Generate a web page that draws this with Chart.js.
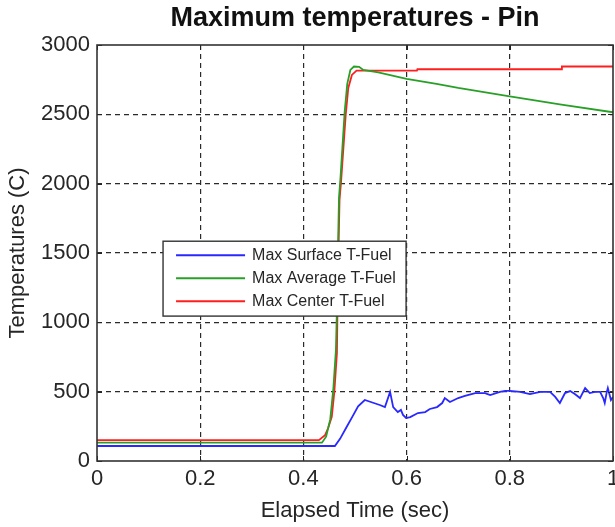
<!DOCTYPE html>
<html><head><meta charset="utf-8">
<script src="https://cdn.jsdelivr.net/npm/chart.js@4.4.0/dist/chart.umd.min.js"></script>
<style>html,body{margin:0;padding:0;background:#fff}canvas{display:block}</style>
</head><body>
<canvas id="c" width="615" height="527"></canvas>
<script>
const chartTitle = 'Maximum temperatures - Pin';
const xAxisLabel = 'Elapsed Time (sec)';
const yAxisLabel = 'Temperatures (C)';
const xTicks = [0, 0.2, 0.4, 0.6, 0.8, 1];
const yTicks = [0, 500, 1000, 1500, 2000, 2500, 3000];
const seriesLabels = ['Max Surface T-Fuel', 'Max Average T-Fuel', 'Max Center T-Fuel'];

const surfaceTime = [0, 0.461, 0.471, 0.484, 0.495, 0.506, 0.519, 0.535, 0.548, 0.558, 0.568, 0.574, 0.583, 0.589, 0.593, 0.599, 0.607, 0.622, 0.636, 0.645, 0.659, 0.669, 0.674, 0.684, 0.700, 0.713, 0.733, 0.752, 0.762, 0.781, 0.791, 0.800, 0.820, 0.839, 0.859, 0.878, 0.888, 0.897, 0.907, 0.917, 0.926, 0.936, 0.946, 0.955, 0.965, 0.975, 0.981, 0.984, 0.988, 0.990, 0.996, 1.0];
const surfaceTemp = [108, 108, 160, 247, 320, 395, 440, 420, 404, 389, 498, 389, 353, 368, 332, 310, 317, 346, 353, 375, 389, 418, 454, 425, 454, 469, 490, 490, 476, 498, 505, 505, 498, 483, 498, 498, 462, 418, 490, 505, 483, 454, 526, 490, 498, 498, 454, 418, 498, 526, 440, 462];

const averageTime = [0, 0.436, 0.444, 0.452, 0.458, 0.463, 0.465, 0.467, 0.469, 0.472, 0.480, 0.485, 0.491, 0.498, 0.508, 0.516, 0.545, 0.6, 0.658, 0.7, 0.8, 0.9, 1.0];
const averageTemp = [132, 132, 175, 300, 520, 800, 1100, 1530, 1900, 2050, 2520, 2720, 2820, 2845, 2843, 2820, 2803, 2755, 2720, 2690, 2630, 2570, 2515];

const centerTime = [0, 0.43, 0.442, 0.448, 0.455, 0.460, 0.465, 0.466, 0.468, 0.470, 0.473, 0.482, 0.487, 0.494, 0.503, 0.62, 0.621, 0.90, 0.901, 1.0];
const centerTemp = [150, 150, 187, 238, 319, 500, 779, 1089, 1522, 1882, 2014, 2495, 2690, 2784, 2815, 2815, 2825, 2825, 2845, 2845];

const seriesColors = ['rgb(40,40,255)', 'rgb(40,160,40)', 'rgb(255,30,30)'];

function pts(t, v) { return t.map((x, i) => ({x: x, y: v[i]})); }

const FONT = "'Liberation Sans', Arial, Helvetica, sans-serif";
const TXT = '#262626';

const frame = {
  id: 'frame',
  afterDatasetsDraw(chart) {
    const {ctx, chartArea: a, scales} = chart;
    ctx.save();
    ctx.strokeStyle = '#222';
    ctx.lineWidth = 1;
    ctx.setLineDash([]);
    const L = 5;
    ctx.beginPath();
    xTicks.forEach(v => {
      const x = Math.round(scales.x.getPixelForValue(v)) + 0.5;
      ctx.moveTo(x, a.bottom); ctx.lineTo(x, a.bottom - L);
      ctx.moveTo(x, a.top); ctx.lineTo(x, a.top + L);
    });
    yTicks.forEach(v => {
      const y = Math.round(scales.y.getPixelForValue(v)) + 0.5;
      ctx.moveTo(a.left, y); ctx.lineTo(a.left + L, y);
      ctx.moveTo(a.right, y); ctx.lineTo(a.right - L, y);
    });
    ctx.stroke();
    ctx.lineWidth = 1.6;
    ctx.strokeStyle = '#333';
    ctx.strokeRect(a.left, a.top, a.right - a.left, a.bottom - a.top);
    ctx.restore();
  },
  afterDraw(chart) {
    const {ctx, scales} = chart;
    const x0 = scales.x.getPixelForValue(0.128), x1 = scales.x.getPixelForValue(0.599);
    const y0 = scales.y.getPixelForValue(1585), y1 = scales.y.getPixelForValue(1045);
    ctx.save();
    ctx.fillStyle = '#fff';
    ctx.fillRect(x0, y0, x1 - x0, y1 - y0);
    ctx.strokeStyle = '#333';
    ctx.lineWidth = 1.4;
    ctx.strokeRect(x0, y0, x1 - x0, y1 - y0);
    ctx.font = '16px ' + FONT;
    ctx.textBaseline = 'middle';
    ctx.textAlign = 'left';
    chart.data.datasets.forEach((ds, i) => {
      const y = y0 + 14 + i * 23;
      ctx.strokeStyle = ds.borderColor;
      ctx.lineWidth = 2;
      ctx.beginPath();
      ctx.moveTo(x0 + 13, y); ctx.lineTo(x0 + 82, y);
      ctx.stroke();
      ctx.fillStyle = TXT;
      ctx.fillText(ds.label, x0 + 89, y);
    });
    ctx.restore();
  }
};

const edgeGrid = (scaleMin, scaleMax) => (c) => (c.tick && (c.tick.value === scaleMin || c.tick.value === scaleMax)) ? 'rgba(0,0,0,0)' : '#2a2a2a';

new Chart(document.getElementById('c'), {
  type: 'line',
  data: {
    datasets: [
      {label: seriesLabels[0], data: pts(surfaceTime, surfaceTemp), borderColor: seriesColors[0]},
      {label: seriesLabels[1], data: pts(averageTime, averageTemp), borderColor: seriesColors[1]},
      {label: seriesLabels[2], data: pts(centerTime, centerTemp), borderColor: seriesColors[2]}
    ]
  },
  options: {
    responsive: false,
    animation: false,
    devicePixelRatio: 1,
    layout: {padding: {top: 0, right: 2, left: 0, bottom: 0}},
    elements: {line: {borderWidth: 1.8, tension: 0, fill: false}, point: {radius: 0}},
    plugins: {
      legend: {display: false},
      tooltip: {enabled: false},
      title: {
        display: true, text: chartTitle, fullSize: false, color: '#111',
        font: {family: FONT, size: 27, weight: 'bold', lineHeight: 1.2},
        padding: {top: 2, bottom: 10.6}
      }
    },
    scales: {
      x: {
        type: 'linear', min: 0, max: 1,
        afterBuildTicks(s) { s.ticks = xTicks.map(v => ({value: v})); },
        afterFit(s) { s.height = 66; s.paddingLeft = 0; s.paddingRight = 0; },
        ticks: {color: TXT, font: {family: FONT, size: 22}, padding: 5, maxRotation: 0,
          callback: v => String(v)},
        grid: {color: edgeGrid(0, 1), lineWidth: 1.2, drawTicks: false},
        border: {display: false, dash: [5, 4]},
        title: {display: true, text: xAxisLabel, color: TXT, font: {family: FONT, size: 22}, padding: {top: 0, bottom: 3}}
      },
      y: {
        min: 0, max: 3000,
        afterBuildTicks(s) { s.ticks = yTicks.map(v => ({value: v})); },
        afterFit(s) { s.width = 97; s.paddingTop = 0; s.paddingBottom = 0; },
        ticks: {color: TXT, font: {family: FONT, size: 22}, padding: 7, callback: v => String(v)},
        grid: {color: edgeGrid(0, 3000), lineWidth: 1.2, drawTicks: false},
        border: {display: false, dash: [5, 4]},
        title: {display: true, text: yAxisLabel, color: TXT, font: {family: FONT, size: 22}, padding: {top: 5, bottom: 0}}
      }
    }
  },
  plugins: [frame]
});
</script>
</body></html>
